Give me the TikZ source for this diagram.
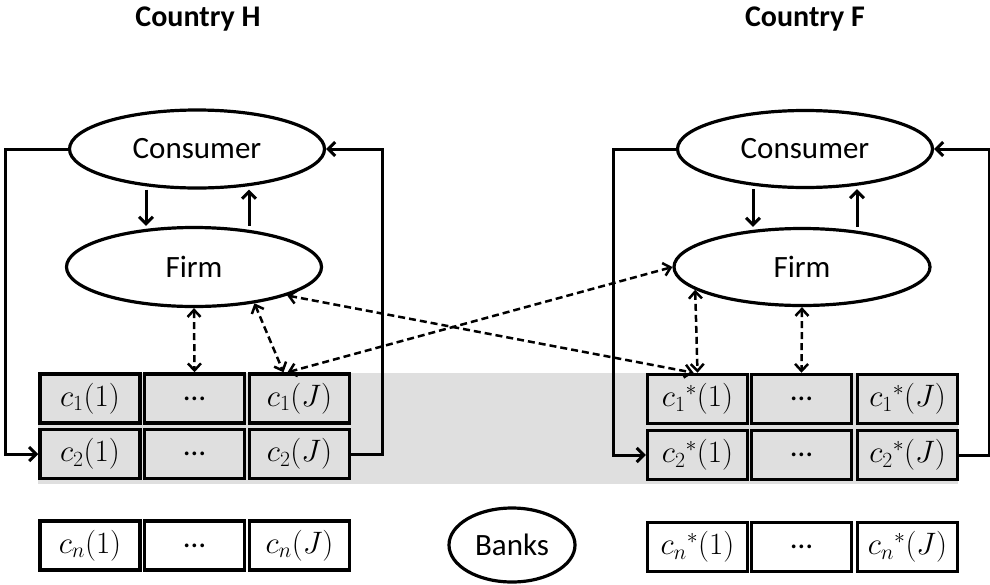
\RequirePackage{fix-cm}
\documentclass[tikz,border=0pt]{standalone}
\usepackage{fontspec}
\setmainfont{Carlito}
\usetikzlibrary{shapes.geometric,arrows.meta}
\begin{document}
\begin{tikzpicture}[x=1pt, y=-1pt, line width=3pt,
agent node/.style={ellipse,draw,line width=3.2pt,inner sep=0pt,font=\fontsize{31}{33}\selectfont},
cell node/.style={rectangle,draw,line width=3.5pt,fill=gray!25,minimum width=100pt,minimum height=49pt,inner sep=0pt,font=\fontsize{31}{33}\selectfont},
title node/.style={font=\fontsize{30}{32}\selectfont\bfseries},
flow/.style={-{Straight Barb[length=7pt,width=14pt]}},
link/.style={line width=2.5pt,dash pattern=on 7pt off 4pt,{Straight Barb[length=7pt,width=13pt]}-{Straight Barb[length=7pt,width=13pt]}}]
\useasboundingbox (0,0) rectangle (990,584);
\fill[gray!25] (38,373) rectangle (958,484);
\begin{scope}
\node[title node] (titleH) at (198,19) {Country H};
\node[title node] (titleF) at (805,19) {Country F};
\node[agent node,minimum width=255pt,minimum height=78pt] (consH) at (197,149) {Consumer};
\node[agent node,minimum width=255pt,minimum height=79pt] (firmH) at (194,267) {Firm};
\node[agent node,minimum width=255pt,minimum height=77pt] (consF) at (805,149) {Consumer};
\node[agent node,minimum width=256pt,minimum height=77pt] (firmF) at (802,267) {Firm};
\node[agent node,minimum width=126pt,minimum height=74pt] (banks) at (512,545) {Banks};
\end{scope}
\begin{scope}
\node[cell node] (h11) at (90,398.5) {$c_1(1)$};
\node[cell node] (h1d) at (194.5,398.5) {\ldots};
\node[cell node] (h1J) at (299.5,398.5) {$c_1(J)$};
\node[cell node] (h21) at (90,454) {$c_2(1)$};
\node[cell node] (h2d) at (194.5,454) {\ldots};
\node[cell node] (h2J) at (299.5,454) {$c_2(J)$};
\node[cell node,fill=white] (hn1) at (90,545.5) {$c_n(1)$};
\node[cell node,fill=white] (hnd) at (194.5,545.5) {\ldots};
\node[cell node,fill=white] (hnJ) at (299.5,545.5) {$c_n(J)$};
\node[cell node] (f11) at (697.5,399) {${c_1}^*(1)$};
\node[cell node] (f1d) at (801.5,399) {\ldots};
\node[cell node] (f1J) at (907.5,399) {${c_1}^*(J)$};
\node[cell node] (f21) at (697.5,455) {${c_2}^*(1)$};
\node[cell node] (f2d) at (801.5,455) {\ldots};
\node[cell node] (f2J) at (907.5,455) {${c_2}^*(J)$};
\node[cell node,fill=white] (fn1) at (697.5,547) {${c_n}^*(1)$};
\node[cell node,fill=white] (fnd) at (801.5,547) {\ldots};
\node[cell node,fill=white] (fnJ) at (907.5,547) {${c_n}^*(J)$};
\end{scope}
\begin{scope}
\draw[flow] ([xshift=-51pt]consH.south) -- ([xshift=-48pt]firmH.north);
\draw[flow] ([xshift=55pt]firmH.north) -- ([xshift=52pt]consH.south);
\draw[flow] ([xshift=-52pt]consF.south) -- ([xshift=-49pt]firmF.north);
\draw[flow] ([xshift=55pt]firmF.north) -- ([xshift=52pt]consF.south);
\draw[flow] (consH.west) -- +(-62,0) |- (h21.west);
\draw[flow] (h2J.east) -- +(31,0) |- (consH.east);
\draw[flow] (consF.west) -- +(-62,0) |- (f21.west);
\draw[flow] (f2J.east) -- +(30,0) |- (consF.east);
\draw[link] (firmH.south) -- (h1d.north);
\draw[link] (firmH.-31) -- ([xshift=-16pt]h1J.north);
\draw[link] (firmH.-17) -- ([xshift=-4pt]f11.north);
\draw[link] ([xshift=-12pt]h1J.north) -- (firmF.west);
\draw[link] (firmF.192) -- (f11.north);
\draw[link] (firmF.south) -- (f1d.north);
\end{scope}
\end{tikzpicture}
\end{document}
